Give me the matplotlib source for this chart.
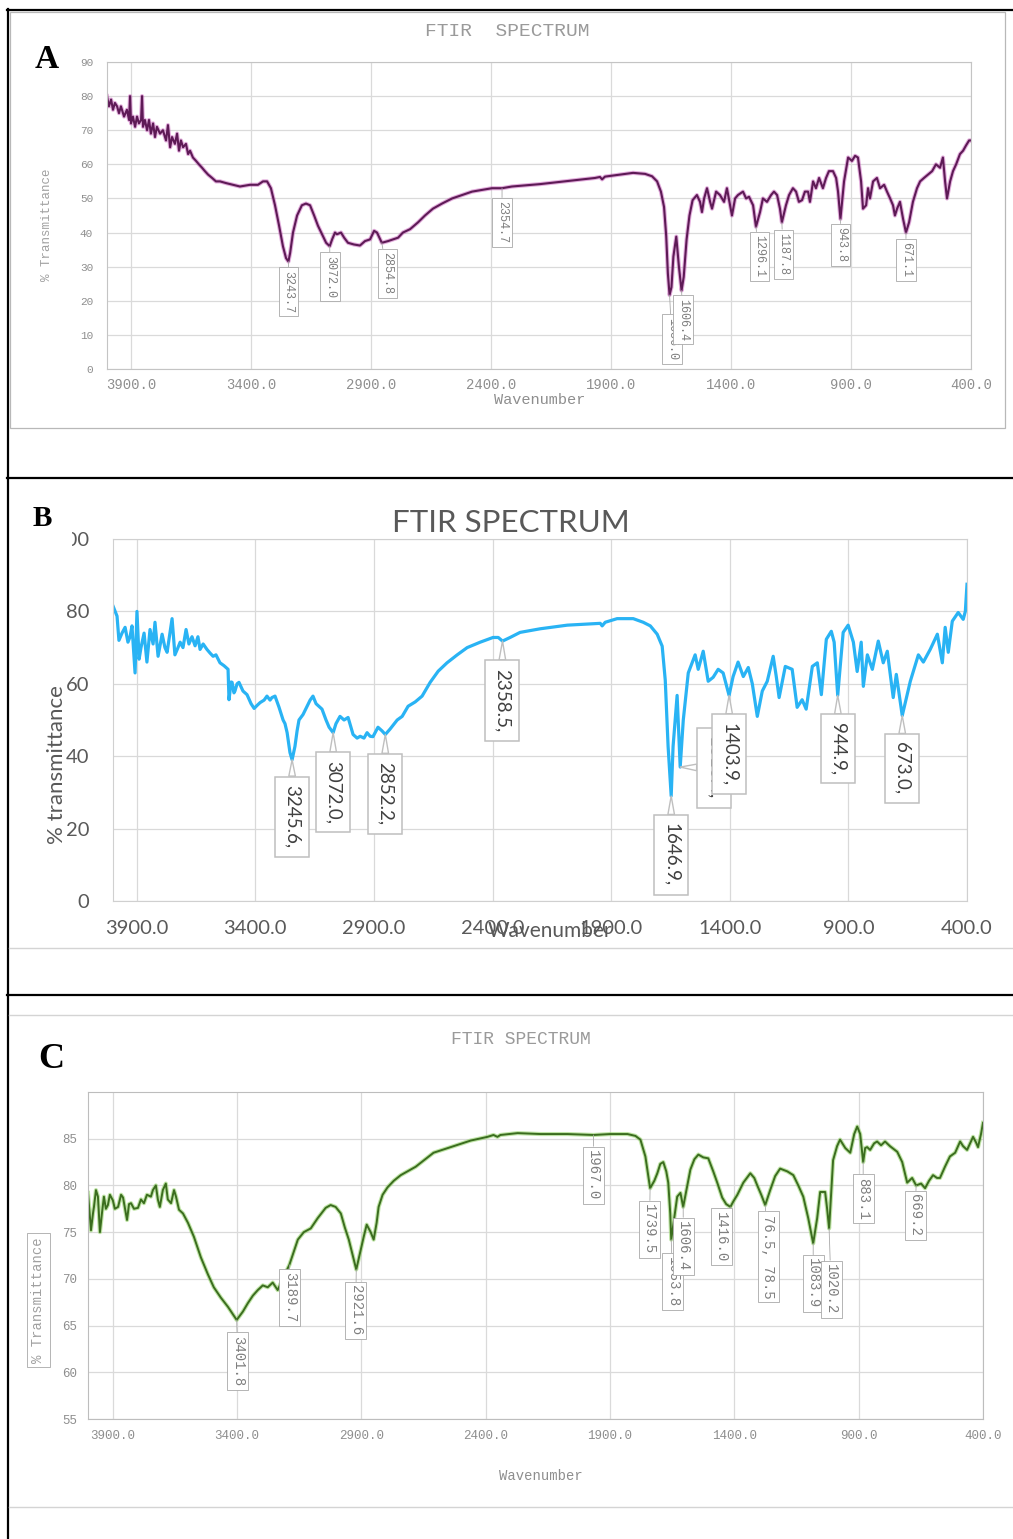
import matplotlib
matplotlib.use('Agg')
import matplotlib.pyplot as plt
from matplotlib.lines import Line2D
from matplotlib.patches import Rectangle
from matplotlib.ticker import FuncFormatter

W, H = 1013, 1539

# --- shared axis values
x_ticks = [3900, 3400, 2900, 2400, 1900, 1400, 900, 400]

# --- panel A (purple spectrum)
a_wn = [4000, 3992, 3983, 3975, 3967, 3958, 3950, 3942, 3929, 3917,
        3908, 3904, 3900, 3892, 3883, 3875, 3867, 3858, 3854, 3850,
        3842, 3833, 3825, 3817, 3808, 3800, 3792, 3779, 3767, 3754,
        3746, 3737, 3729, 3717, 3708, 3700, 3692, 3683, 3671, 3662,
        3654, 3642, 3629, 3617, 3604, 3592, 3579, 3562, 3546, 3529,
        3504, 3475, 3446, 3404, 3371, 3350, 3333, 3317, 3300, 3283,
        3267, 3254, 3244, 3237, 3225, 3208, 3188, 3171, 3154, 3137,
        3121, 3104, 3087, 3072, 3062, 3050, 3042, 3025, 3012, 2996,
        2971, 2946, 2925, 2904, 2887, 2875, 2862, 2855, 2829, 2808,
        2787, 2767, 2737, 2704, 2675, 2642, 2604, 2562, 2521, 2479,
        2437, 2396, 2354, 2313, 2196, 2071, 1967, 1946, 1937, 1925,
        1862, 1808, 1758, 1729, 1708, 1692, 1679, 1670, 1663, 1656,
        1648, 1640, 1628, 1617, 1606, 1597, 1585, 1573, 1560, 1542,
        1529, 1521, 1512, 1500, 1487, 1479, 1462, 1446, 1429, 1417,
        1404, 1396, 1383, 1371, 1350, 1337, 1325, 1308, 1296, 1279,
        1267, 1250, 1233, 1221, 1208, 1196, 1188, 1171, 1158, 1142,
        1129, 1117, 1104, 1092, 1079, 1071, 1058, 1046, 1033, 1017,
        1004, 992, 975, 962, 954, 944, 929, 912, 896, 883,
        871, 858, 850, 837, 829, 821, 808, 792, 779, 762,
        750, 737, 725, 717, 708, 696, 683, 671, 658, 642,
        625, 612, 596, 579, 562, 546, 529, 517, 508, 500,
        487, 475, 462, 446, 433, 421, 408, 400]
a_t = [80, 77, 79, 76, 78, 77, 75, 77, 74, 76,
       73, 80, 72, 74, 71, 74, 72, 73, 80, 71,
       73, 70, 73, 69, 72, 68, 71, 69, 70, 67,
       71.5, 65, 68, 66, 69, 64, 67, 65, 66, 63,
       64, 62, 61, 60, 59, 58, 57, 56, 55, 55,
       54.5, 54, 53.5, 54, 54, 55, 55, 53, 48, 42,
       36, 32.5, 31.5, 34, 40, 45, 48, 48.5, 48, 45,
       42, 39.5, 37, 36, 38, 40, 39.5, 40, 38.5, 37,
       36.5, 36.2, 37.5, 38, 40.5, 40, 38, 37, 37.5, 38,
       38.5, 40, 41, 43, 45, 47, 48.5, 50, 51, 52,
       52.5, 53, 53, 53.5, 54.2, 55.2, 56, 56.3, 55.6, 56.4,
       57, 57.5, 57.2, 56.5, 55, 52, 47.5, 39, 28, 21.7,
       24, 33, 38.8, 30, 23, 27, 38, 45, 49.5, 51,
       49, 46, 50, 53, 49, 47, 52, 51, 49, 53,
       48, 45, 50, 51, 52, 50, 50.5, 48, 41.7, 46,
       50, 49, 51, 52, 51, 47, 43, 48, 51, 53,
       52, 49, 49.5, 52, 52, 49, 55, 53, 56, 53,
       56, 58, 58, 56, 52, 44, 55, 62, 61, 62.5,
       62, 55, 47, 48, 53, 50, 55, 56, 53, 54,
       52, 50, 48, 45, 47, 49, 44, 40, 43, 49,
       53, 55, 56, 57, 58, 60, 59, 62, 55, 50,
       55, 58, 60, 63, 64, 65.5, 67, 67]
a_lab = ['3243.7', '3072.0', '2854.8', '2354.7', '1656.0', '1606.4',
         '1296.1', '1187.8', '943.8', '671.1']
a_lab_x = [3244, 3071, 2833, 2354, 1646, 1600, 1283, 1183, 942, 671]
a_lab_y = [22.6, 27, 28, 43, 8.8, 14.4, 33, 33.7, 36.4, 32]
a_pt_x = [3244, 3072, 2855, 2354, 1656, 1606, 1296, 1188, 944, 671]
a_pt_y = [31.5, 36, 37, 53, 21.7, 23, 41.7, 43, 44, 40]

# --- panel B (blue spectrum)
b_wn = [4000, 3983, 3975, 3962, 3949, 3937, 3928, 3920, 3907, 3899,
        3890, 3882, 3869, 3857, 3844, 3831, 3823, 3810, 3793, 3781,
        3772, 3751, 3739, 3726, 3717, 3705, 3692, 3680, 3667, 3654,
        3642, 3633, 3620, 3604, 3591, 3578, 3566, 3549, 3532, 3515,
        3511, 3502, 3498, 3490, 3486, 3477, 3469, 3452, 3435, 3418,
        3405, 3393, 3380, 3363, 3351, 3338, 3330, 3317, 3300, 3283,
        3275, 3266, 3254, 3245, 3233, 3224, 3216, 3199, 3182, 3169,
        3157, 3144, 3119, 3102, 3089, 3072, 3060, 3043, 3026, 3009,
        2988, 2971, 2958, 2942, 2929, 2916, 2904, 2883, 2866, 2852,
        2832, 2802, 2781, 2756, 2726, 2697, 2663, 2629, 2592, 2549,
        2507, 2452, 2398, 2376, 2358, 2326, 2284, 2199, 2085, 1946,
        1938, 1925, 1875, 1807, 1765, 1735, 1706, 1685, 1672, 1660,
        1647, 1639, 1622, 1609, 1596, 1575, 1546, 1533, 1512, 1491,
        1470, 1449, 1428, 1403, 1386, 1365, 1343, 1322, 1305, 1284,
        1263, 1242, 1217, 1204, 1192, 1166, 1137, 1116, 1095, 1078,
        1052, 1031, 1014, 993, 972, 960, 945, 922, 901, 879,
        863, 846, 837, 820, 799, 774, 753, 736, 711, 698,
        673, 639, 605, 584, 555, 525, 504, 492, 479, 462,
        437, 416, 407, 400]
b_t = [81.5, 78.7, 72, 74, 75.6, 71.5, 73, 76, 63, 80,
       66.8, 70, 74, 66, 75, 71, 77, 67.6, 73.7, 70,
       68.7, 78, 68, 70, 71.5, 70, 75, 71, 73, 70.5,
       73, 69.5, 71, 69.5, 68.5, 67.6, 68, 65.8, 65, 64,
       55.6, 60.5, 60.4, 57.5, 58, 60, 60.4, 58, 57, 54.5,
       53.2, 54, 54.8, 55.5, 56.6, 55.5, 56.2, 56.6, 53.5, 50,
       49, 46.5, 41, 39, 42.7, 47, 50, 51.5, 53.8, 55.5,
       56.6, 54.5, 53, 50, 48, 46.5, 49, 51, 50, 50.7,
       46, 45, 45.5, 45, 46.5, 45.5, 45.4, 48, 47, 46,
       47.5, 50, 51, 53.8, 55, 56.6, 60.4, 63.5, 65.8, 68,
       70, 71.5, 72.8, 72.8, 71.8, 72.8, 74.2, 75.2, 76.2, 76.7,
       76, 77, 78, 78, 77, 76, 73.7, 70.4, 61, 42.7,
       29, 42.7, 56.8, 37, 50, 63, 68, 64, 69, 60.7,
       61.8, 64, 63, 56.8, 62, 66, 62, 64.5, 60, 51,
       58, 60.7, 67.6, 62, 56.2, 64.8, 64, 53.5, 55.6, 53,
       64.8, 65.8, 57, 72.3, 74.5, 71.5, 56.8, 74.2, 76.2, 71.5,
       63.4, 71.5, 59.3, 68, 64, 71.8, 65.8, 69, 56.2, 62.6,
       51.2, 60.7, 68, 66, 69.5, 73.7, 65.8, 75.6, 68.7, 77.3,
       79.7, 77.8, 80, 87.5]
b_lab = ['3245.6,', '3072.0,', '2852.2,', '2358.5,', '1646.9,', '1610.4,',
         '1403.9,', '944.9,', '673.0,']
b_lab_x = [3245, 3072, 2853, 2360, 1647, 1466, 1402, 943, 673]
b_lab_y = [23.3, 30, 29.6, 55.4, 12.7, 36.8, 40.5, 42, 36.6]
b_pt_x = [3245, 3072, 2852, 2358, 1647, 1609, 1403, 945, 673]
b_pt_y = [39, 46.5, 46, 71.8, 29, 37, 56.8, 56.8, 51.2]

# --- panel C (green spectrum)
c_wn = [4000, 3988, 3980, 3976, 3968, 3960, 3952, 3944, 3936, 3928,
        3920, 3912, 3900, 3892, 3879, 3867, 3859, 3851, 3843, 3835,
        3827, 3815, 3799, 3787, 3775, 3763, 3747, 3739, 3727, 3719,
        3711, 3699, 3687, 3679, 3666, 3654, 3646, 3634, 3618, 3598,
        3574, 3546, 3518, 3494, 3466, 3437, 3417, 3402, 3377, 3357,
        3337, 3317, 3297, 3277, 3257, 3237, 3225, 3208, 3190, 3156,
        3132, 3104, 3076, 3044, 3024, 3004, 2983, 2967, 2951, 2935,
        2921, 2903, 2891, 2879, 2863, 2851, 2839, 2831, 2815, 2795,
        2770, 2742, 2682, 2610, 2541, 2461, 2393, 2369, 2353, 2341,
        2272, 2180, 2071, 1967, 1899, 1830, 1798, 1778, 1758, 1746,
        1739, 1722, 1710, 1698, 1686, 1674, 1666, 1658, 1654, 1642,
        1630, 1617, 1606, 1593, 1577, 1561, 1545, 1525, 1505, 1485,
        1469, 1449, 1433, 1416, 1404, 1388, 1364, 1336, 1320, 1308,
        1292, 1276, 1256, 1236, 1216, 1187, 1163, 1143, 1123, 1103,
        1083, 1067, 1055, 1035, 1027, 1019, 1011, 1003, 987, 975,
        954, 934, 918, 906, 894, 882, 874, 866, 854, 838,
        826, 810, 794, 774, 745, 725, 705, 685, 669, 649,
        633, 617, 601, 585, 573, 553, 533, 512, 492, 480,
        464, 452, 440, 428, 420, 408, 400]
c_t = [79.2, 75.2, 77, 77.7, 79.5, 78.8, 75, 77, 78.8, 77.5,
       77.9, 79, 78.4, 77.5, 77.7, 79, 78.7, 77.5, 76.3, 78,
       78.1, 77.5, 77.6, 78.5, 78.1, 79, 78.8, 79.5, 80, 78.5,
       77.7, 79.5, 80.2, 78.5, 78.1, 79.5, 78.8, 77.4, 77, 76,
       74.5, 72.3, 70.5, 69.1, 68, 67, 66.2, 65.6, 66.5, 67.4,
       68.2, 68.8, 69.3, 69.1, 69.6, 68.8, 69.5, 70.5, 71.5, 74.2,
       75, 75.4, 76.5, 77.6, 77.9, 77.7, 77, 75.5, 74.2, 72.5,
       71, 73.1, 74.5, 75.8, 75, 74.2, 76, 77.7, 79, 79.8,
       80.5, 81.1, 82, 83.5, 84.1, 84.8, 85.2, 85.4, 85.2, 85.4,
       85.6, 85.5, 85.5, 85.4, 85.5, 85.5, 85.3, 84.9, 83.1, 81,
       79.7, 80.5, 81.3, 82.3, 82.5, 81.5, 80.3, 77, 74.2, 76.5,
       78.8, 79.2, 77.7, 79.5, 81.7, 82.8, 83.3, 83, 82.9, 81.5,
       80.3, 78.7, 78, 77.7, 78.3, 79, 80.3, 81.3, 80.8, 80,
       79, 77.9, 79.5, 81, 81.8, 81.5, 81.1, 80, 78.8, 76.5,
       73.8, 76.5, 79.3, 79.3, 77.5, 75.4, 79, 82.7, 84.2, 84.9,
       84, 83.5, 85.5, 86.3, 85.5, 82.5, 84, 84.1, 83.8, 84.5,
       84.7, 84.3, 84.7, 84.2, 83.6, 82.5, 80.3, 80.8, 80.0, 80.2,
       79.7, 80.5, 81.1, 80.8, 80.8, 82, 83.1, 83.5, 84.7, 84.2,
       83.8, 84.5, 85.2, 84.6, 84.1, 85.5, 86.7]
c_lab = ['3401.8', '3189.7', '2921.6', '1967.0', '1739.5', '1653.8', '1606.4',
         '1416.0', '76.5, 78.5', '1083.9', '1020.2', '883.1', '669.2']
c_lab_x = [3397, 3188, 2923, 1967, 1742, 1649, 1605, 1453, 1264, 1083, 1011, 882, 673]
c_lab_y = [61.2, 68, 66.6, 81.1, 75.3, 69.7, 73.5, 74.5, 72.4, 69.5, 68.9, 78.6, 76.8]
c_pt_x = [3402, 3190, 2921, 1967, 1739, 1654, 1606, 1416, 1276, 1083, 1019, 882, 669]
c_pt_y = [65.6, 71.5, 71, 85.4, 79.7, 74.2, 77.7, 77.7, 77.9, 73.8, 75.4, 82.5, 80.0]


def fx(px):
    return px / W


def fy(py):
    return 1 - py / H


def axes_at(fig, left, top, right, bottom):
    return fig.add_axes([fx(left), fy(bottom), (right - left) / W, (bottom - top) / H])


def line(fig, xs, ys, color, lw):
    fig.add_artist(Line2D([fx(x) for x in xs], [fy(y) for y in ys],
                          transform=fig.transFigure, color=color, lw=lw))


def add_labels(ax, texts, lx, ly, px, py, **style):
    for t, x0, y0, x1, y1 in zip(texts, lx, ly, px, py):
        ax.annotate(t, xy=(x1, y1), xytext=(x0, y0), rotation=270,
                    ha='center', va='center', **style)


def style_axes(ax, ylim, yticks, grid_color, spine_color, text_color, family, xsize, ysize, xpad, ypad):
    ax.set_xlim(4000, 400)
    ax.set_ylim(*ylim)
    ax.set_xticks(x_ticks)
    ax.set_yticks(yticks)
    ax.xaxis.set_major_formatter(FuncFormatter(lambda v, p: f'{v:.1f}'))
    ax.grid(True, color=grid_color, lw=0.9)
    ax.set_axisbelow(True)
    for s in ax.spines.values():
        s.set_color(spine_color)
    ax.tick_params(axis='both', length=0, colors=text_color)
    ax.tick_params(axis='x', labelsize=xsize, pad=xpad)
    ax.tick_params(axis='y', labelsize=ysize, pad=ypad)
    for lab in ax.get_xticklabels() + ax.get_yticklabels():
        lab.set_family(family)


fig = plt.figure(figsize=(W / 100, H / 100), dpi=100)

# frame of the composite figure
line(fig, [7, 1013], [10, 10], 'black', 1.6)
line(fig, [8, 8], [9, 1539], 'black', 1.6)
line(fig, [7, 1013], [478, 478], 'black', 1.6)
line(fig, [7, 1013], [995, 995], 'black', 1.6)
fig.add_artist(Rectangle((fx(10), fy(428)), 995 / W, 416 / H, transform=fig.transFigure,
                         fill=False, ec='#b8b8b8', lw=0.9))
line(fig, [9, 1013], [948, 948], '#d4d4d4', 1.0)
line(fig, [9, 1013], [1015, 1015], '#d4d4d4', 1.0)
line(fig, [9, 1013], [1507, 1507], '#d4d4d4', 1.0)

mono = 'Liberation Mono'
grey = '#8e8e8e'

# ---------------- panel A
ax_a = axes_at(fig, 107, 62, 971, 369)
ax_a.plot(a_wn, a_t, color='#c04ab2', lw=3.0, alpha=0.45)
ax_a.plot(a_wn, a_t, color='#5e1a56', lw=1.5)
style_axes(ax_a, (0, 90), list(range(0, 91, 10)), '#dadada', '#c4c4c4', grey, mono, 10, 8, 6.5, 10)
add_labels(ax_a, a_lab, a_lab_x, a_lab_y, a_pt_x, a_pt_y,
           fontsize=8.5, family=mono, color='#7f7f7f',
           bbox=dict(boxstyle='square,pad=0.3', fc='white', ec='#a8a8a8', lw=0.6),
           arrowprops=dict(arrowstyle='-', color='#a8a8a8', lw=0.6, shrinkA=0, shrinkB=0))
fig.text(fx(507), fy(31), 'FTIR  SPECTRUM', family=mono, fontsize=14, color='#9a9a9a',
         ha='center', va='center')
fig.text(fx(540), fy(400), 'Wavenumber', family=mono, fontsize=11, color=grey,
         ha='center', va='center')
fig.text(fx(47), fy(225), '% Transmittance', family=mono, fontsize=9, color='#a0a0a0',
         ha='center', va='center', rotation=90)
fig.text(fx(47), fy(59), 'A', family='Liberation Serif', fontweight='bold', fontsize=24,
         ha='center', va='center')

# ---------------- panel B
lato = 'Lato'
ax_b = axes_at(fig, 113, 539, 967, 901)
ax_b.plot(b_wn, b_t, color='#29b3f4', lw=2.3, solid_joinstyle='round')
style_axes(ax_b, (0, 100), list(range(0, 101, 20)), '#d9d9d9', '#d0d0d0', '#595959', lato, 14.5, 14.5, 14, 17)
add_labels(ax_b, b_lab, b_lab_x, b_lab_y, b_pt_x, b_pt_y,
           fontsize=13.5, family=lato, color='#404040',
           bbox=dict(boxstyle='square,pad=0.45', fc='white', ec='#bfbfbf', lw=1.1),
           arrowprops=dict(arrowstyle='wedge,tail_width=0.35,shrink_factor=0.5',
                           fc='white', ec='#bfbfbf', lw=1.0, shrinkA=0, shrinkB=0))
fig.text(fx(511), fy(523), 'FTIR SPECTRUM', family=lato, fontsize=22.5, color='#595959',
         ha='center', va='center')
fig.text(fx(550), fy(931), 'Wavenumber', family=lato, fontsize=15, color='#595959',
         ha='center', va='center')
fig.text(fx(57), fy(765), '% transmittance', family=lato, fontsize=16, color='#595959',
         ha='center', va='center', rotation=90)
fig.add_artist(Rectangle((fx(14), fy(548)), (72 - 14) / W, (548 - 497) / H,
                         transform=fig.transFigure, fc='white', ec='none', zorder=5))
fig.text(fx(42), fy(519), 'B', family='Liberation Serif', fontweight='bold', fontsize=21,
         ha='center', va='center', zorder=6)

# ---------------- panel C
ax_c = axes_at(fig, 88, 1092, 983, 1419)
ax_c.plot(c_wn, c_t, color='#8ccf5e', lw=3.0, alpha=0.55)
ax_c.plot(c_wn, c_t, color='#3b6d1f', lw=1.4)
style_axes(ax_c, (55, 90), list(range(55, 86, 5)), '#dadada', '#bdbdbd', grey, mono, 9, 9, 8, 8)
add_labels(ax_c, c_lab, c_lab_x, c_lab_y, c_pt_x, c_pt_y,
           fontsize=10, family=mono, color='#7f7f7f',
           bbox=dict(boxstyle='square,pad=0.25', fc='white', ec='#a8a8a8', lw=0.6),
           arrowprops=dict(arrowstyle='-', color='#a8a8a8', lw=0.6, shrinkA=0, shrinkB=0))
fig.text(fx(521), fy(1040), 'FTIR SPECTRUM', family=mono, fontsize=13, color='#9a9a9a',
         ha='center', va='center')
fig.text(fx(541), fy(1476), 'Wavenumber', family=mono, fontsize=10, color=grey,
         ha='center', va='center')
fig.text(fx(38.5), fy(1300), '% Transmittance', family=mono, fontsize=10, color='#a0a0a0',
         ha='center', va='center', rotation=90,
         bbox=dict(boxstyle='square,pad=0.3', fc='white', ec='#a8a8a8', lw=0.6))
fig.text(fx(51), fy(1060), 'C', family='Liberation Serif', fontweight='bold', fontsize=26,
         ha='center', va='center')

fig.savefig('out.png', dpi=100, facecolor='white')
